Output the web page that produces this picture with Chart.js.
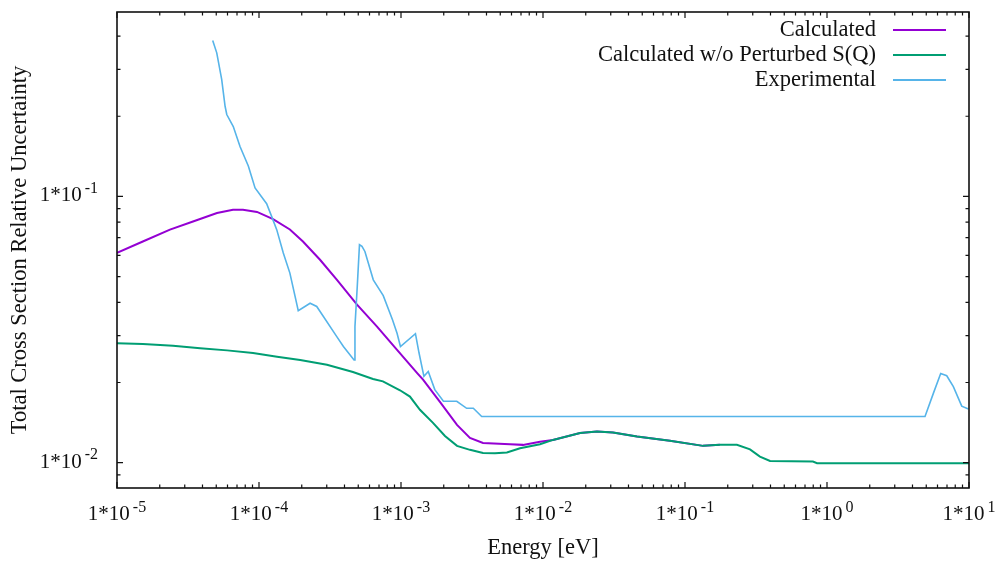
<!DOCTYPE html>
<html>
<head>
<meta charset="utf-8">
<script src="https://cdn.jsdelivr.net/npm/chart.js@4/dist/chart.umd.min.js"></script>
<style>
  body { margin: 0; background: #fff; }
  #wrap { width: 997px; height: 562px; }
</style>
</head>
<body>
<div id="wrap"><canvas id="xsChart" width="997" height="562"></canvas></div>
<script>
// Energia [eV] e incerteza relativa
const calcEnergy = [1e-5, 1.52e-5, 2.36e-5, 3.43e-5, 5.06e-5, 6.56e-5, 7.71e-5, 9.68e-5, 1.256e-4, 1.65e-4, 2.04e-4, 2.69e-4, 3.54e-4, 4.90e-4, 6.78e-4, 9.38e-4, 1.30e-3, 1.43e-3, 1.88e-3, 2.48e-3, 3.06e-3, 3.78e-3, 5.86e-3, 7.23e-3, 9.53e-3, 0.01175, 0.01824, 0.0240, 0.0311, 0.0459, 0.0783, 0.134, 0.176];
const calcUnc = [0.0614, 0.0677, 0.0750, 0.0805, 0.0866, 0.0891, 0.0891, 0.0874, 0.0822, 0.0751, 0.0677, 0.0578, 0.0486, 0.0392, 0.0324, 0.0265, 0.0217, 0.0205, 0.0169, 0.01386, 0.01239, 0.01186, 0.01172, 0.01166, 0.01197, 0.01217, 0.01291, 0.01309, 0.01297, 0.01253, 0.01208, 0.01156, 0.01166];

const noSqEnergy = [1e-5, 1.52e-5, 2.48e-5, 3.85e-5, 5.96e-5, 9.08e-5, 1.34e-4, 1.95e-4, 3.01e-4, 4.59e-4, 6.35e-4, 7.46e-4, 9.84e-4, 1.156e-3, 1.36e-3, 1.68e-3, 2.04e-3, 2.48e-3, 3.06e-3, 3.78e-3, 4.59e-3, 5.57e-3, 6.89e-3, 9.53e-3, 0.01175, 0.01824, 0.0240, 0.0311, 0.0459, 0.0783, 0.134, 0.176, 0.232, 0.287, 0.337, 0.397, 0.796, 0.851, 10];
const noSqUnc = [0.0281, 0.0279, 0.0275, 0.0269, 0.0264, 0.0258, 0.0250, 0.0243, 0.0233, 0.0219, 0.0206, 0.0202, 0.0187, 0.0177, 0.0158, 0.0141, 0.0126, 0.01156, 0.01117, 0.01087, 0.01084, 0.01091, 0.01133, 0.01173, 0.01217, 0.01291, 0.01309, 0.01297, 0.01253, 0.01208, 0.01156, 0.01166, 0.01166, 0.01122, 0.01054, 0.01015, 0.01009, 0.00995, 0.00995];

const expEnergy = [4.72e-5, 5.04e-5, 5.46e-5, 5.77e-5, 5.93e-5, 6.59e-5, 7.35e-5, 8.41e-5, 9.38e-5, 1.132e-4, 1.227e-4, 1.333e-4, 1.483e-4, 1.65e-4, 1.795e-4, 1.89e-4, 2.29e-4, 2.55e-4, 3.52e-4, 3.93e-4, 4.67e-4, 4.74e-4, 4.92e-4, 5.10e-4, 5.31e-4, 5.57e-4, 6.38e-4, 7.50e-4, 8.71e-4, 9.38e-4, 9.91e-4, 1.264e-3, 1.34e-3, 1.45e-3, 1.556e-3, 1.73e-3, 1.99e-3, 2.47e-3, 2.90e-3, 3.23e-3, 3.70e-3, 4.90, 5.61, 6.32, 6.97, 7.76, 8.89, 9.91];
const expUnc = [0.385, 0.346, 0.275, 0.218, 0.203, 0.183, 0.154, 0.130, 0.1076, 0.0939, 0.0841, 0.0750, 0.0613, 0.0515, 0.0421, 0.0372, 0.0397, 0.0386, 0.0298, 0.0273, 0.0243, 0.0325, 0.0459, 0.0658, 0.0649, 0.0621, 0.0486, 0.0424, 0.0344, 0.0306, 0.0273, 0.0305, 0.0258, 0.0211, 0.0220, 0.0188, 0.0170, 0.0170, 0.0160, 0.0160, 0.0149, 0.0149, 0.0182, 0.0216, 0.0212, 0.0193, 0.0163, 0.0159];

const seriesNames = ['Calculated', 'Calculated w/o Perturbed S(Q)', 'Experimental'];
const seriesColors = ['#9400d3', '#009e73', '#56b4e9'];

const SERIF = "'Liberation Serif', 'Times New Roman', serif";

function pairs(xs, ys) {
    return xs.map((x, i) => ({ x: x, y: ys[i] }));
}

function isPow10(v) {
    const l = Math.log10(v);
    return Math.abs(l - Math.round(l)) < 1e-9;
}

function isNice(v) {
    const e = Math.floor(Math.log10(v) + 1e-9);
    const m = v / Math.pow(10, e);
    return Math.abs(m - Math.round(m)) < 1e-6;
}

// rótulo "1*10" com expoente sobrescrito; align: 'center' ou 'right'
function drawPowLabel(ctx, v, x, baseY, align) {
    const base = '1*10';
    const sup = String(Math.round(Math.log10(v)));
    ctx.font = '21px ' + SERIF;
    const bw = ctx.measureText(base).width;
    ctx.font = '16px ' + SERIF;
    const sw = ctx.measureText(sup).width;
    const gap = 3;
    const total = bw + gap + sw;
    const x0 = align === 'right' ? x - total : x - total / 2;
    ctx.textAlign = 'left';
    ctx.textBaseline = 'alphabetic';
    ctx.font = '21px ' + SERIF;
    ctx.fillText(base, x0, baseY);
    ctx.font = '16px ' + SERIF;
    ctx.fillText(sup, x0 + bw + gap, baseY - 8.5);
}

// moldura, marcas para dentro (estilo gnuplot) e rótulos dos eixos
const frameTicks = {
    id: 'frameTicks',
    afterDatasetsDraw(chart) {
        const { ctx, chartArea: a, scales } = chart;
        ctx.save();
        ctx.strokeStyle = '#111';
        ctx.fillStyle = '#111';
        ctx.lineWidth = 1.2;
        scales.x.ticks.forEach(t => {
            if (!isNice(t.value)) return;
            const px = scales.x.getPixelForValue(t.value);
            const len = isPow10(t.value) ? 6 : 3.5;
            ctx.beginPath();
            ctx.moveTo(px, a.bottom); ctx.lineTo(px, a.bottom - len);
            ctx.moveTo(px, a.top); ctx.lineTo(px, a.top + len);
            ctx.stroke();
            if (isPow10(t.value)) drawPowLabel(ctx, t.value, px, a.bottom + 32, 'center');
        });
        scales.y.ticks.forEach(t => {
            if (!isNice(t.value)) return;
            const py = scales.y.getPixelForValue(t.value);
            const len = isPow10(t.value) ? 6 : 3.5;
            ctx.beginPath();
            ctx.moveTo(a.left, py); ctx.lineTo(a.left + len, py);
            ctx.moveTo(a.right, py); ctx.lineTo(a.right - len, py);
            ctx.stroke();
            if (isPow10(t.value)) drawPowLabel(ctx, t.value, a.left - 19, py + 5, 'right');
        });
        ctx.lineWidth = 1.6;
        ctx.strokeRect(a.left, a.top, a.right - a.left, a.bottom - a.top);
        ctx.restore();
    }
};

// legenda no canto superior direito: texto à esquerda, amostra de linha à direita
const keyBox = {
    id: 'keyBox',
    afterDraw(chart) {
        const { ctx } = chart;
        ctx.save();
        ctx.font = '22.5px ' + SERIF;
        ctx.fillStyle = '#111';
        ctx.textAlign = 'right';
        ctx.textBaseline = 'middle';
        chart.data.datasets.forEach((ds, i) => {
            const y = 30 + i * 25;
            ctx.fillText(ds.label, 876, y);
            ctx.strokeStyle = ds.borderColor;
            ctx.lineWidth = 2;
            ctx.beginPath();
            ctx.moveTo(893, y);
            ctx.lineTo(946, y);
            ctx.stroke();
        });
        ctx.restore();
    }
};

const ctx = document.getElementById('xsChart').getContext('2d');
new Chart(ctx, {
    type: 'line',
    data: {
        datasets: [
            { label: seriesNames[0], data: pairs(calcEnergy, calcUnc), borderColor: seriesColors[0], borderWidth: 2, order: 2 },
            { label: seriesNames[1], data: pairs(noSqEnergy, noSqUnc), borderColor: seriesColors[1], borderWidth: 2, order: 1 },
            { label: seriesNames[2], data: pairs(expEnergy, expUnc), borderColor: seriesColors[2], borderWidth: 1.6, order: 0 }
        ]
    },
    options: {
        responsive: false,
        animation: false,
        devicePixelRatio: 1,
        elements: {
            point: { radius: 0 },
            line: { tension: 0, fill: false }
        },
        layout: { padding: { top: 12, right: 28, left: 0, bottom: 0 } },
        plugins: {
            legend: { display: false },
            tooltip: { enabled: false }
        },
        scales: {
            x: {
                type: 'logarithmic',
                position: 'bottom',
                min: 1e-5,
                max: 10,
                grid: { display: false, drawTicks: false },
                border: { display: false },
                ticks: { display: false, autoSkip: false },
                title: {
                    display: true,
                    text: 'Energy [eV]',
                    color: '#111',
                    font: { family: SERIF, size: 22.5 },
                    padding: { top: 0, bottom: 0 }
                },
                afterFit: s => { s.height = 74; s.paddingLeft = 0; s.paddingRight = 0; }
            },
            y: {
                type: 'logarithmic',
                position: 'left',
                min: 0.00803,
                max: 0.4926,
                grid: { display: false, drawTicks: false },
                border: { display: false },
                ticks: { display: false, autoSkip: false },
                title: {
                    display: true,
                    text: 'Total Cross Section Relative Uncertainty',
                    color: '#111',
                    font: { family: SERIF, size: 22.5 },
                    padding: { top: 7, bottom: 0 }
                },
                afterFit: s => { s.width = 117; s.paddingTop = 0; s.paddingBottom = 0; }
            }
        }
    },
    plugins: [frameTicks, keyBox]
});
</script>
</body>
</html>
